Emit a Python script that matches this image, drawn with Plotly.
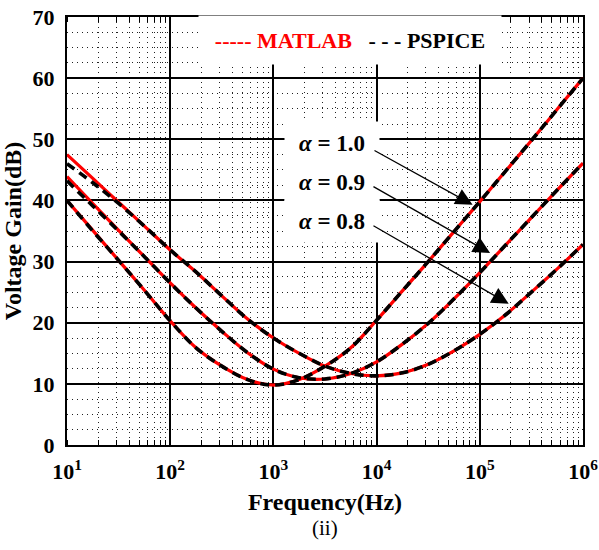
import plotly.graph_objects as go

# frequencies (Hz), quarter-decade steps from 10 Hz to 1 MHz
freq = [10 ** (1 + 0.25 * k) for k in range(21)]

# MATLAB curves, dB
matlab_a10 = [40.0, 35.1, 30.2, 25.3, 20.3, 15.9, 12.9, 10.7, 9.8, 10.7, 12.9,
              15.9, 20.4, 25.2, 30.0, 34.9, 39.8, 44.8, 49.8, 54.9, 60.0]
matlab_a09 = [43.9, 39.5, 35.1, 30.8, 26.5, 22.4, 18.6, 15.1, 12.4, 11.0, 10.8,
              11.7, 13.6, 16.5, 19.9, 23.9, 28.2, 32.7, 37.2, 41.7, 46.1]
matlab_a08 = [47.5, 43.6, 39.7, 35.8, 31.9, 28.3, 24.4, 20.6, 17.5, 15.0, 12.9,
              11.7, 11.3, 11.8, 13.2, 15.4, 18.1, 21.3, 25.0, 28.8, 32.8]

# PSPICE curves, dB
pspice_a10 = [40.0, 35.0, 30.2, 25.3, 20.3, 15.9, 12.9, 10.7, 9.8, 10.7, 12.9,
              15.9, 20.4, 25.2, 30.0, 34.9, 39.8, 44.8, 49.8, 54.9, 60.0]
pspice_a09 = [43.2, 39.1, 35.0, 30.8, 26.5, 22.4, 18.6, 15.1, 12.4, 11.0, 10.8,
              11.7, 13.6, 16.5, 19.9, 23.9, 28.2, 32.7, 37.2, 41.7, 46.1]
pspice_a08 = [46.0, 42.9, 39.5, 35.8, 31.9, 28.3, 24.4, 20.6, 17.5, 15.0, 12.9,
              11.7, 11.3, 11.8, 13.2, 15.4, 18.1, 21.3, 25.0, 28.8, 32.8]

x_tickvals = [1e1, 1e2, 1e3, 1e4, 1e5, 1e6]
x_ticktext = ["10<sup>1</sup>", "10<sup>2</sup>", "10<sup>3</sup>",
              "10<sup>4</sup>", "10<sup>5</sup>", "10<sup>6</sup>"]

alpha_labels = ["1.0", "0.9", "0.8"]
# label centres (log10 f, dB) and arrow tips
label_pos = [(3.57, 49.4), (3.57, 43.0), (3.57, 36.6)]
arrow_tail = [(3.965, 48.3), (3.955, 42.4), (3.955, 36.0)]
arrow_head = [(4.93, 39.3), (5.10, 31.4), (5.28, 23.1)]

SERIF = "Liberation Serif, Times New Roman, serif"

fig = go.Figure()
for y in (matlab_a10, matlab_a09, matlab_a08):
    fig.add_trace(go.Scatter(x=freq, y=y, mode="lines", line_shape="spline",
                             line=dict(color="#ff0000", width=3.2),
                             showlegend=False))
for y in (pspice_a10, pspice_a09, pspice_a08):
    fig.add_trace(go.Scatter(x=freq, y=y, mode="lines", line_shape="spline",
                             line=dict(color="black", width=3.6, dash="9px,6px"),
                             showlegend=False))

annotations = []
# legend box (white, hides grid)
annotations.append(dict(
    x=3.74, y=66.3, xref="x", yref="y", showarrow=False,
    width=300, height=46, bgcolor="white",
    text="<span style='color:#ff0000'>----- MATLAB</span>"
         "&nbsp;&nbsp;&nbsp;- - - PSPICE",
    font=dict(family=SERIF, size=22, color="black", weight="bold")))
for lab, (lx, ly) in zip(alpha_labels, label_pos):
    annotations.append(dict(
        x=lx, y=ly, xref="x", yref="y", showarrow=False,
        width=92, height=40, bgcolor="white",
        text=f"<i>α</i> = {lab}",
        font=dict(family=SERIF, size=23, color="black", weight="bold")))
for (tx, ty), (hx, hy) in zip(arrow_tail, arrow_head):
    annotations.append(dict(
        x=hx, y=hy, ax=tx, ay=ty, xref="x", yref="y", axref="x", ayref="y",
        text="", showarrow=True, arrowhead=2, arrowsize=2.6, arrowwidth=1.3,
        arrowcolor="black"))
annotations.append(dict(
    x=0.5, y=-0.195, xref="paper", yref="paper", showarrow=False,
    yanchor="middle",
    text="(ii)", font=dict(family=SERIF, size=21, color="black")))

fig.update_layout(
    width=599, height=550,
    margin=dict(l=67, r=16, t=17, b=105),
    paper_bgcolor="white", plot_bgcolor="white",
    font=dict(family=SERIF, color="black"),
    annotations=annotations,
    xaxis=dict(
        type="log", range=[1, 6], automargin=False, ticklabeloverflow="allow",
        tickvals=x_tickvals, ticktext=x_ticktext,
        showline=True, linecolor="black", linewidth=2, mirror="ticks",
        showgrid=True, gridcolor="black", gridwidth=2,
        ticks="", zeroline=False, ticklabelstandoff=6,
        tickfont=dict(family=SERIF, size=22, color="black", weight="bold"),
        minor=dict(dtick="D1", ticks="inside", ticklen=5, tickcolor="black",
                   tickwidth=1, showgrid=True, gridcolor="#222",
                   gridwidth=1, griddash="1px,4px"),
        title=dict(text="Frequency(Hz)", standoff=10,
                   font=dict(family=SERIF, size=24, color="black",
                             weight="bold")),
    ),
    yaxis=dict(
        range=[0, 70], dtick=10, automargin=False, ticklabeloverflow="allow",
        showline=True, linecolor="black", linewidth=2, mirror=True,
        showgrid=True, gridcolor="black", gridwidth=2,
        ticks="", zeroline=False, ticklabelstandoff=6,
        tickfont=dict(family=SERIF, size=22, color="black", weight="bold"),
        minor=dict(dtick=2.5, showgrid=True, gridcolor="#222",
                   gridwidth=1, griddash="1px,4px"),
        title=dict(text="Voltage Gain(dB)", standoff=4,
                   font=dict(family=SERIF, size=24, color="black",
                             weight="bold")),
    ),
)

# drop the page's default body margin so the figure fills the window
fig.write_html("out.html", config={"displayModeBar": False},
               post_script="document.body.style.margin='0';")
